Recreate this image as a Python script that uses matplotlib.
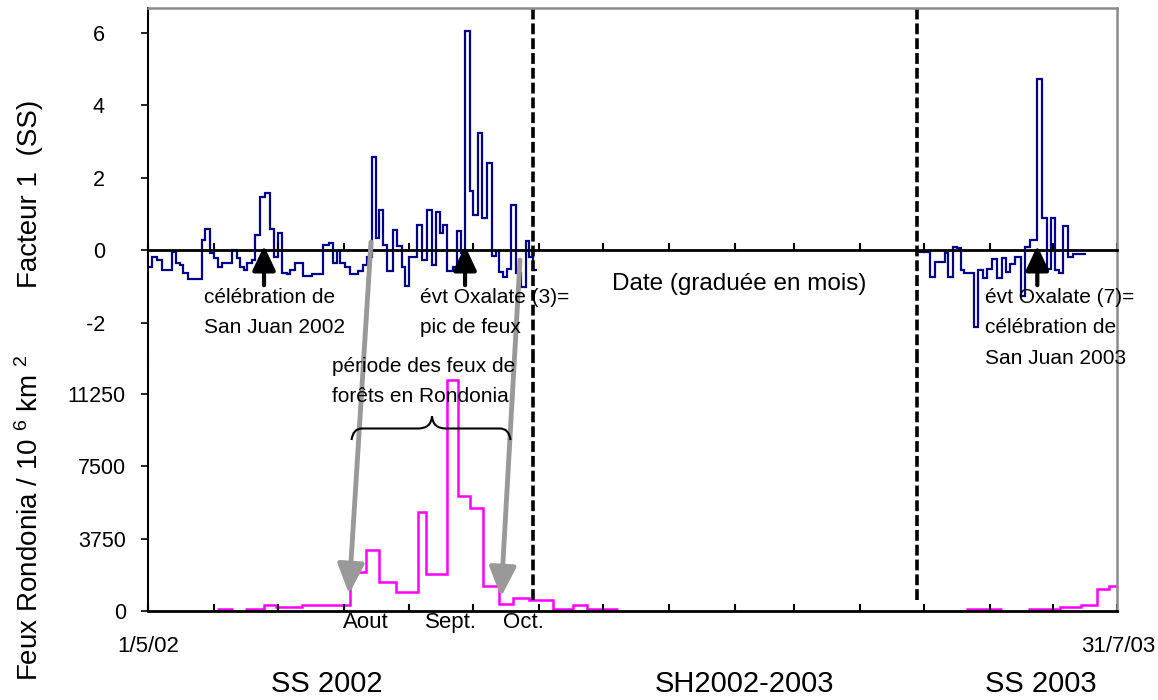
import numpy as np
import matplotlib.pyplot as plt
from matplotlib import font_manager as fm
from matplotlib.path import Path
from matplotlib.patches import PathPatch, FancyArrowPatch

plt.rcParams['font.family'] = ['Liberation Sans', 'DejaVu Sans']
plt.rcParams['mathtext.fontset'] = 'custom'
plt.rcParams['mathtext.rm'] = 'Liberation Sans'
plt.rcParams['mathtext.it'] = 'Liberation Sans'


def has_font(name):
    try:
        fm.findfont(fm.FontProperties(family=name), fallback_to_default=False)
        return True
    except ValueError:
        return False


# condensed font for the axis texts if there is one
if has_font('Liberation Sans Narrow'):
    NARROW = ['Liberation Sans Narrow', 'DejaVu Sans']
    sz_tick, sz_month, sz_date, sz_season = 17, 19, 18, 25
else:
    NARROW = ['Liberation Sans', 'DejaVu Sans']
    sz_tick, sz_month, sz_date, sz_season = 15.5, 16, 16, 21

# x axis = days since 1/5/02 (to 31/7/03)
x_end = 456
season_limits = [181, 362]

# Facteur 1 (SS), saison seche 2002
f1_edges_2002 = [0, 1.7, 4.1, 6.4, 11.2, 13.0, 15.1, 16.6, 19.0, 25.3,
                 26.8, 29.2, 31.1, 32.8, 34.7, 39.4, 41.7, 43.3, 45.2, 46.7,
                 48.8, 50.4, 52.7, 55.1, 57.4, 59.3, 61.0, 62.9, 65.3, 66.8,
                 69.2, 73.1, 77.0, 82.5, 85.3, 87.2, 88.8, 90.4, 92.7, 95.1,
                 99.0, 101.3, 102.9, 105.3, 107.3, 108.8, 110.7, 112.6, 115.4, 117.3,
                 119.4, 120.9, 123.0, 126.7, 128.8, 131.4, 133.5, 135.4, 137.4, 139.0,
                 140.8, 143.4, 145.3, 147.3, 149.2, 151.5, 153.1, 155.4, 157.3, 159.4,
                 161.7, 163.6, 165.2, 167.2, 169.1, 170.8, 173.0, 175.4, 177.7, 179.4,
                 181.0, 182.9]
f1_vals_2002 = [-0.46, -0.18, -0.28, -0.55, -0.06, -0.37, -0.41, -0.64, -0.81, 0.28,
                0.59, -0.09, -0.21, -0.46, -0.35, 0.0, -0.23, -0.46, -0.55, -0.37,
                -0.28, 0.41, 1.47, 1.58, 0.59, -0.18, 0.48, -0.63, -0.66, -0.55,
                -0.37, -0.72, -0.67, 0.14, 0.20, -0.35, -0.02, -0.37, -0.46, -0.67,
                -0.57, -0.41, -0.18, 2.57, 0.32, 1.09, 0.14, -0.57, 0.55, 0.12,
                -0.46, -0.99, -0.18, 0.69, -0.28, 1.09, -0.41, 1.05, 0.46, 0.68,
                -0.57, -0.46, 0.53, -0.09, 6.05, 1.64, 0.97, 3.24, 0.87, 2.41,
                -0.17, -0.02, -0.60, -0.74, -0.51, 1.25, -0.63, -1.03, 0.26, -0.18,
                -0.55]

# Facteur 1 (SS), saison seche 2003
f1_edges_2003 = [363.0, 368.0, 370.4, 375.1, 376.6, 379.0, 380.6, 382.4, 384.1, 388.8,
                 390.7, 392.8, 394.7, 397.0, 399.4, 402.0, 403.6, 405.6, 408.0, 410.8,
                 412.7, 415.1, 418.2, 420.6, 423.2, 424.8, 426.8, 428.7, 430.7, 433.1,
                 435.4, 441.3]
f1_vals_2003 = [-0.05, -0.74, -0.32, -0.07, -0.74, 0.09, 0.05, -0.55, -0.64, -2.11,
                -0.55, -0.78, -0.51, -0.26, -0.78, -0.23, -0.60, -0.39, -0.18, -1.27,
                0.09, 0.28, 4.71, 0.87, -0.51, 0.87, -0.55, -0.63, 0.67, -0.18,
                -0.11]

# Feux Rondonia / 10^6 km2 (nan = pas de donnee)
fire_edges = [32.6, 39.9, 45.8, 54.6, 60.2, 72.5, 95.0, 102.6, 108.8, 116.7,
              126.9, 130.8, 140.9, 145.7, 151.5, 157.8, 165.3, 171.9, 179.4, 190.7,
              200.1, 206.7, 221.3, 385.0, 401.7, 414.3, 429.2, 439.1, 446.4, 452.1,
              456.0]
fire_vals = [80, np.nan, 80, 290, 200, 290, 2040, 3160, 1520, 990,
             5150, 1920, 11980, 5980, 5360, 1300, 360, 690, 570, 80,
             290, 80, np.nan, 90, np.nan, 90, 190, 290, 1120, 1310]

f1_ticks = [-2, 0, 2, 4, 6]
fire_ticks = [0, 3750, 7500, 11250]

months = np.arange('2002-05', '2003-08', dtype='datetime64[M]')
month_days = list((months.astype('datetime64[D]') - np.datetime64('2002-05-01')).astype(int)) + [x_end]

W, H = 1158, 700


def P(x, y):
    return x / W, 1 - y / H


fig = plt.figure(figsize=(W / 100, H / 100), dpi=100)
ax_top = fig.add_axes([148 / W, (H - 360) / H, 969 / W, 352 / H])
ax_bot = fig.add_axes([148 / W, (H - 611) / H, 969 / W, 251 / H])
for ax in (ax_top, ax_bot):
    ax.patch.set_alpha(0)
    ax.set_xlim(0, x_end)
    ax.set_xticks(month_days)
    ax.tick_params(axis='x', direction='in', length=5, width=1.5, labelbottom=False)
    ax.tick_params(axis='y', direction='out', length=5, width=1.2)
    ax.spines['left'].set_linewidth(1.5)
    ax.spines['right'].set_color('#8c8c8c')
    ax.spines['right'].set_linewidth(1.8)

# top panel
ax_top.stairs(f1_vals_2002, f1_edges_2002, baseline=None, color='#00008b', lw=1.6)
ax_top.stairs(f1_vals_2003, f1_edges_2003, baseline=None, color='#00008b', lw=1.6)
ax_top.set_ylim(-3.034, 6.676)
ax_top.set_yticks(f1_ticks)
ax_top.set_yticklabels([str(t) for t in f1_ticks], family=NARROW, fontsize=sz_tick)
ax_top.tick_params(axis='y', pad=26)
ax_top.spines['bottom'].set_position(('data', 0))
ax_top.spines['bottom'].set_linewidth(2)
ax_top.spines['top'].set_color('#8c8c8c')
ax_top.spines['top'].set_linewidth(1.8)

# bottom panel
ax_bot.stairs(fire_vals, fire_edges, baseline=None, color='#ff00ff', lw=1.8)
ax_bot.set_ylim(0, 13019)
ax_bot.set_yticks(fire_ticks)
ax_bot.set_yticklabels([str(t) for t in fire_ticks], family=NARROW, fontsize=sz_tick)
ax_bot.tick_params(axis='y', pad=11)
ax_bot.spines['top'].set_visible(False)
ax_bot.spines['bottom'].set_linewidth(2)

# season limits
for d in season_limits:
    ax_top.axvline(d, color='black', lw=2.6, ls=(0, (3, 1.1)))
    ax_bot.axvline(d, ymin=0.044, ymax=1, color='black', lw=2.6, ls=(0, (3, 1.1)))

# event arrows
for d in [54.6, 149.2, 418.5]:
    ax_top.annotate('', xy=(d, 0.12), xytext=(d, -0.97),
                    arrowprops=dict(arrowstyle='-|>,head_width=0.35,head_length=0.75',
                                    color='black', lw=3, mutation_scale=20,
                                    shrinkA=0, shrinkB=0))

# grey arrows towards fire season
for a, b in [((371, 242), (349, 594)), ((520, 260), (501, 597))]:
    fig.add_artist(FancyArrowPatch(P(*a), P(*b), transform=fig.transFigure,
                                   arrowstyle='-|>,head_width=0.45,head_length=1.0',
                                   mutation_scale=18, color='#999999', lw=3.5,
                                   shrinkA=0, shrinkB=0))

# brace
brace = [(351.5, 440), (353, 428.5), (362, 428.5), (418, 428.5),
         (431, 428.5), (432, 416.5), (433, 428.5), (446, 428.5),
         (500, 428.5), (509, 428.5), (510.5, 440)]
codes = [Path.MOVETO, Path.CURVE3, Path.CURVE3, Path.LINETO,
         Path.CURVE3, Path.CURVE3, Path.CURVE3, Path.CURVE3,
         Path.LINETO, Path.CURVE3, Path.CURVE3]
fig.add_artist(PathPatch(Path([P(*p) for p in brace], codes), transform=fig.transFigure,
                         facecolor='none', edgecolor='black', lw=1.5))

# annotations
txt = dict(fontsize=15, ha='left', va='top', linespacing=1.75)
fig.text(*P(204, 288), 'célébration de\nSan Juan 2002', **txt)
fig.text(*P(420, 288), 'évt Oxalate (3)=\npic de feux', **txt)
fig.text(*P(332, 357), 'période des feux de\nforêts en Rondonia', **txt)
fig.text(*P(985, 288), 'évt Oxalate (7)=\ncélébration de\nSan Juan 2003', **txt)
fig.text(*P(612, 284), 'Date (graduée en mois)', fontsize=17.5, ha='left', va='center')

for label, x in [('Aout', 343), ('Sept.', 425), ('Oct.', 503)]:
    fig.text(*P(x, 612), label, fontsize=sz_month, family=NARROW, ha='left', va='top')
fig.text(*P(148, 646), '1/5/02', fontsize=sz_date, family=NARROW, ha='center', va='center')
fig.text(*P(1118, 646), '31/7/03', fontsize=sz_date, family=NARROW, ha='center', va='center')
for label, x in [('SS 2002', 327), ('SH2002-2003', 744), ('SS 2003', 1041)]:
    fig.text(*P(x, 684), label, fontsize=sz_season, family=NARROW, ha='center', va='center')

fig.text(*P(30, 194), 'Facteur 1  (SS)', fontsize=20, rotation=90, ha='center', va='center')
fig.text(*P(30, 518), 'Feux Rondonia / 10 $^{6}$ km $^{2}$', fontsize=20, rotation=90,
         ha='center', va='center')

fig.savefig('out.png', dpi=100)
